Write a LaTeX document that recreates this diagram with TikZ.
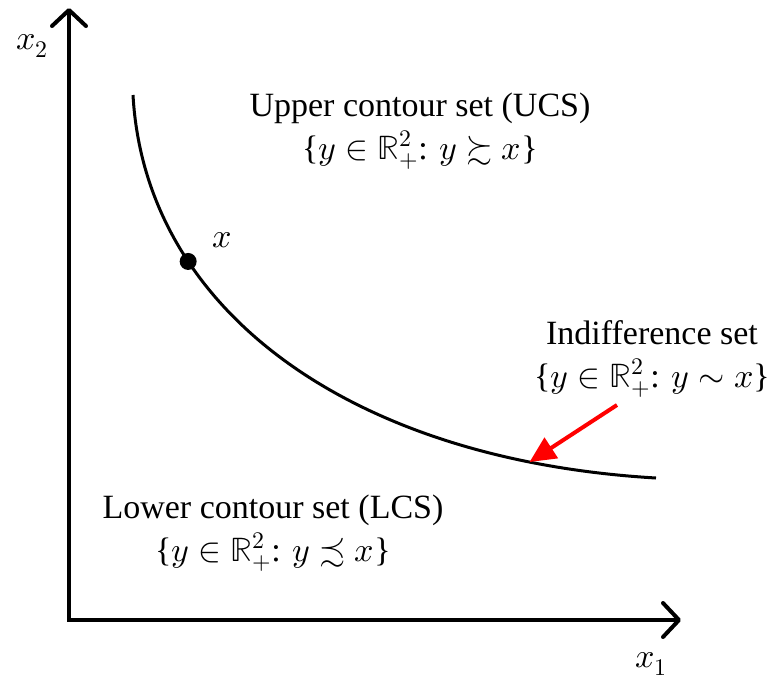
\documentclass[tikz,border=0pt]{standalone}
\usepackage{fontspec}
\usepackage{unicode-math}
\setmainfont{Liberation Serif}
\setmathfont{Latin Modern Math}
\usetikzlibrary{arrows.meta}
\begin{document}
\begin{tikzpicture}[x=1pt,y=-1pt,
  axis/.style={line width=4pt,{Straight Barb[length=16pt,width=34pt,line cap=round,line join=round]}-{Straight Barb[length=16pt,width=34pt,line cap=round,line join=round]}},
  lbl/.style={font=\fontsize{34}{43}\selectfont, align=center, inner sep=0pt},
  curvestyle/.style={line width=3pt},
  dotstyle/.style={circle, fill=black, inner sep=0pt, minimum size=17pt},
  redarrow/.style={red, line width=4pt, -{Triangle[length=26pt,width=24pt]}}]
\useasboundingbox (0,0) rectangle (772,689);
\coordinate (ytop) at (69,8);
\coordinate (O) at (69,620);
\coordinate (xend) at (681,620);
\draw[axis] (ytop) -- (O) -- (xend);
\node[lbl] (x2) at (32,46) {$x_2$};
\node[lbl] (x1) at (651,664) {$x_1$};
\coordinate (cstart) at (133,95);
\coordinate (cend) at (656,478);
\draw[curvestyle] (cstart) .. controls (145,310) and (350,460) .. (cend)
  node[pos=0.285, dotstyle] (xpt) {}
  coordinate[pos=0.855] (arrend);
\node[lbl] (xlabel) at (222,240) {$x$};
\node[lbl] (ucs) at (420,131) {Upper contour set (UCS)\\\{$y\in\mathbb{R}^2_+$: $y\succsim x$\}};
\node[lbl] (ind) at (652,359) {Indifference set\\\{$y\in\mathbb{R}^2_+$: $y\sim x$\}};
\node[lbl] (lcs) at (273,533) {Lower contour set (LCS)\\\{$y\in\mathbb{R}^2_+$: $y\precsim x$\}};
\coordinate (arrstart) at (617,405);
\draw[redarrow] (arrstart) -- (arrend);
\end{tikzpicture}
\end{document}
